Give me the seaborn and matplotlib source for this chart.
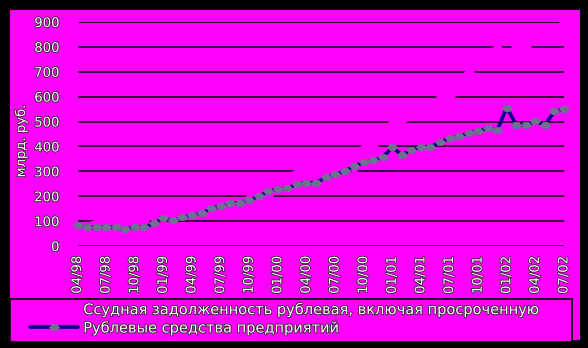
import numpy as np
import pandas as pd
import matplotlib
matplotlib.use("Agg")
import matplotlib.pyplot as plt
import matplotlib.patheffects as pe
from matplotlib.path import Path
from matplotlib.patches import Rectangle
import seaborn as sns

# ---- data ----
months = ["04/98", "05/98", "06/98", "07/98", "08/98", "09/98", "10/98", "11/98", "12/98",
          "01/99", "02/99", "03/99", "04/99", "05/99", "06/99", "07/99", "08/99", "09/99",
          "10/99", "11/99", "12/99", "01/00", "02/00", "03/00", "04/00", "05/00", "06/00",
          "07/00", "08/00", "09/00", "10/00", "11/00", "12/00", "01/01", "02/01", "03/01",
          "04/01", "05/01", "06/01", "07/01", "08/01", "09/01", "10/01", "11/01", "12/01",
          "01/02", "02/02", "03/02", "04/02", "05/02", "06/02", "07/02"]
tick_labels = ["04/98", "07/98", "10/98", "01/99", "04/99", "07/99", "10/99", "01/00", "04/00",
               "07/00", "10/00", "01/01", "04/01", "07/01", "10/01", "01/02", "04/02", "07/02"]
loans = [72, 86, 97, 102, 99, 95, 98, 104, 118, 128, 136, 142, 150, 158, 165, 172, 176, 181,
         193, 200, 205, 232, 286, 296, 300, 304, 298, 302, 306, 312, 395, 403, 435, 496, 505,
         525, 552, 572, 596, 604, 650, 700, 742, 768, 795, 835, 800, 804, 822, 848, 866, 900]
funds = [83, 75, 75, 75, 75, 67, 75, 75, 91, 111, 103, 115, 123, 131, 151, 159, 172, 172,
         184, 200, 220, 228, 232, 248, 254, 254, 276, 288, 300, 321, 336, 344, 356, 397, 366,
         385, 397, 397, 418, 433, 441, 453, 461, 473, 466, 556, 486, 486, 501, 486, 541, 549]
series_names = ["Ссудная задолженность рублевая, включая просроченную",
                "Рублевые средства предприятий"]
y_label = "млрд. руб."

df = pd.DataFrame({"idx": np.arange(len(months)), "month": months,
                   "loans": loans, "funds": funds})

MAG = "#FF00FF"
NAVY = "#000080"
GRAY = "#6F7092"
W, H = 588, 348

sns.set_theme(style="white")
plt.rcParams["font.family"] = ["DejaVu Sans"]

fig = plt.figure(figsize=(W / 100, H / 100), dpi=100, facecolor="black")
# magenta panel
fig.patches.append(Rectangle((10 / W, 1 - 340 / H), 570 / W, 330 / H,
                             transform=fig.transFigure, facecolor=MAG,
                             edgecolor="none", zorder=-10))
# legend box
fig.patches.append(Rectangle((10 / W, 1 - 342 / H), (572 - 10) / W, (342 - 299) / H,
                             transform=fig.transFigure, facecolor=MAG,
                             edgecolor="black", linewidth=1.2, zorder=-9))

ax = fig.add_axes([77.5 / W, (H - 246) / H, (564 - 77.5) / W, (246 - 22) / H])
ax.set_facecolor("none")
ax.patch.set_alpha(0)

blob = Path([(-1.0, 0.0), (-0.45, 0.62), (0.45, 0.62), (1.0, 0.0),
             (0.45, -0.62), (-0.45, -0.62), (-1.0, 0.0)],
            [Path.MOVETO] + [Path.LINETO] * 5 + [Path.CLOSEPOLY])

sns.lineplot(data=df, x="idx", y="loans", ax=ax, color=MAG, linewidth=3,
             marker=blob, markersize=7, markerfacecolor=MAG,
             markeredgecolor=MAG, label=series_names[0], zorder=3, clip_on=False)
sns.lineplot(data=df, x="idx", y="funds", ax=ax, color=NAVY, linewidth=2.6,
             marker=blob, markersize=7.2, markerfacecolor=GRAY,
             markeredgecolor=GRAY, markeredgewidth=0.6,
             label=series_names[1], zorder=4, clip_on=False)

ax.set_xlim(0, len(months) - 1)
ax.set_ylim(0, 900)
ax.set_yticks(np.arange(0, 901, 100))
ax.set_xticks([months.index(t) for t in tick_labels])

stroke = [pe.withStroke(linewidth=1.1, foreground="#202020")]
ax.set_xticklabels(tick_labels, rotation=90, fontsize=9.5, color="white",
                   va="top", ha="center")
ax.set_yticklabels([str(v) for v in range(0, 901, 100)], fontsize=9.5, color="white")
for t in ax.get_xticklabels() + ax.get_yticklabels():
    t.set_path_effects(stroke)
ax.tick_params(axis="x", length=0, pad=7)
ax.tick_params(axis="y", length=0, pad=13)

ax.yaxis.grid(True, color="black", linewidth=1.1)
ax.xaxis.grid(False)
ax.set_axisbelow(True)
for s in ax.spines.values():
    s.set_visible(False)

ax.set_xlabel("")
ax.set_ylabel(y_label, fontsize=9.5, color="white", labelpad=0)
ax.yaxis.label.set_path_effects(stroke)
ax.yaxis.set_label_coords((28 - 77.5) / (564 - 77.5), 0.47)

handles, labels = ax.get_legend_handles_labels()
ax.get_legend().remove()
leg = fig.legend(handles, labels, loc="upper left",
                 bbox_to_anchor=(30 / W, 1 - 301 / H), frameon=False,
                 fontsize=10.5, handlelength=3.3, handletextpad=0.35,
                 borderpad=0, borderaxespad=0, labelspacing=0.15)
for t in leg.get_texts():
    t.set_color("white")
    t.set_path_effects(stroke)

fig.savefig("out.png", dpi=100, facecolor="black")
